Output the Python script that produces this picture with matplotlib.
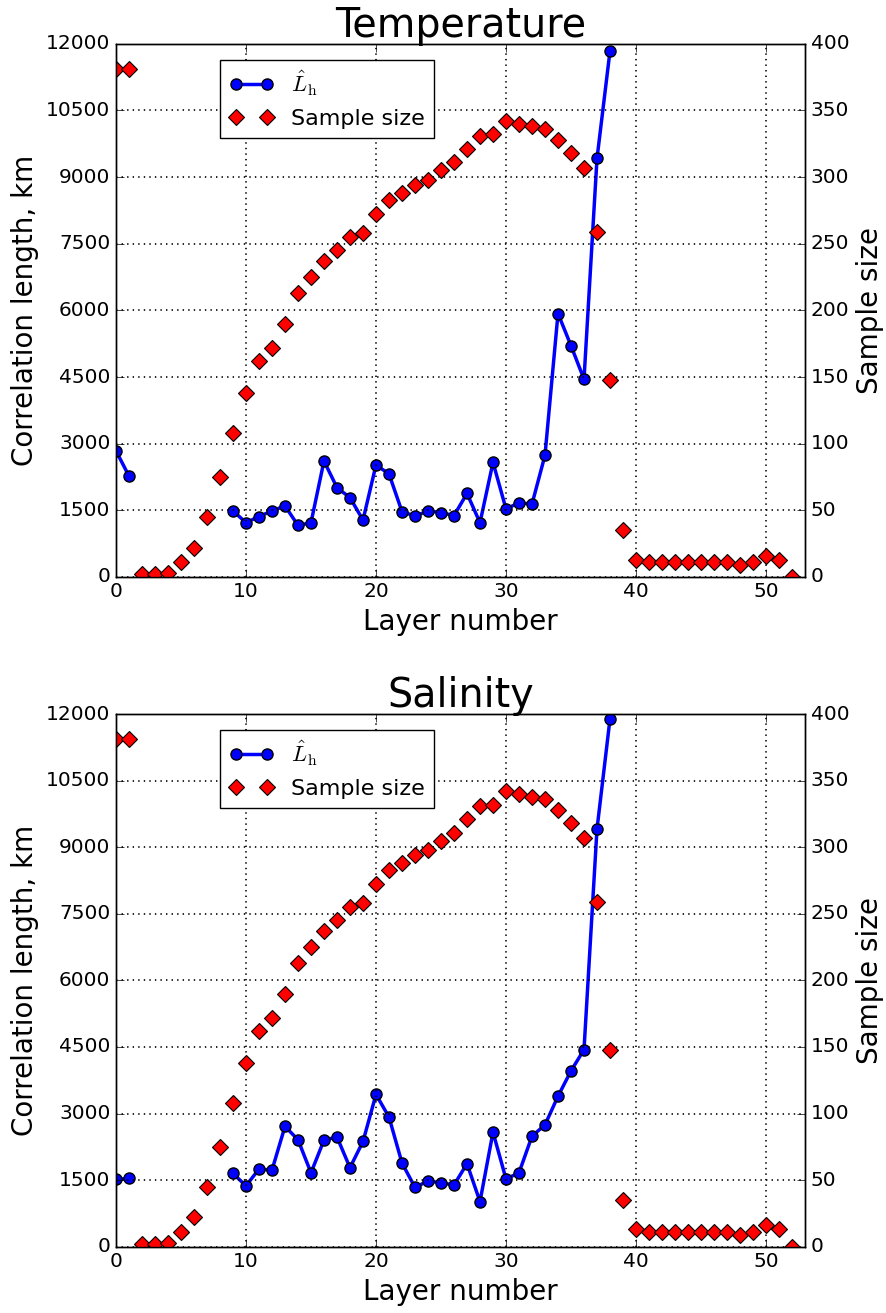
import numpy as np
import matplotlib

matplotlib.use("Agg")
import matplotlib.pyplot as plt  # noqa: E402

plt.style.use("classic")
plt.rcParams["mathtext.fontset"] = "cm"
plt.rcParams["font.family"] = ["DejaVu Sans"]

nan = np.nan
layers = np.arange(53)

# sample size per layer (same for both variables)
sample_size = [381, 381, 2, 2, 3, 11, 22, 45, 75, 108, 138, 162, 172, 190, 213,
               225, 237, 245, 255, 258, 272, 283, 288, 294, 298, 305, 311, 321,
               331, 332, 342, 340, 338, 336, 328, 318, 307, 259, 148, 35, 13,
               11, 11, 11, 11, 11, 11, 11, 9, 11, 16, 13, 0]

# correlation length estimates, km (NaN where not estimated)
L_temp = [2840, 2270, nan, nan, nan, nan, nan, nan, nan, 1490, 1220, 1360, 1485,
          1600, 1160, 1220, 2610, 2010, 1785, 1280, 2520, 2320, 1470, 1370, 1485,
          1450, 1380, 1880, 1220, 2580, 1530, 1670, 1640, 2740, 5930, 5205, 4450,
          9420, 11840, nan, nan, nan, nan, nan, nan, nan, nan, nan, nan, nan, nan,
          nan, nan]
L_sal = [1515, 1540, nan, nan, nan, nan, nan, nan, nan, 1650, 1370, 1750, 1725,
         2710, 2410, 1665, 2400, 2470, 1780, 2370, 3430, 2920, 1885, 1335, 1480,
         1440, 1390, 1870, 1015, 2580, 1525, 1665, 2490, 2745, 3390, 3960, 4440,
         9410, 11890, nan, nan, nan, nan, nan, nan, nan, nan, nan, nan, nan, nan,
         nan, nan]

titles = ["Temperature", "Salinity"]
series = [L_temp, L_sal]

fig = plt.figure(figsize=(8.86, 13.13), dpi=100, facecolor="white")
boxes = [[0.1309, 0.5606, 0.7777, 0.406], [0.1309, 0.0505, 0.7777, 0.4057]]

for box, title, L in zip(boxes, titles, series):
    ax = fig.add_axes(box)
    ax.plot(layers, L, "o-", color="b", lw=2.5, ms=8, mec="k", mew=1,
            label=r"$\hat{L}_\mathrm{h}$")
    ax.set_xlim(0, 53)
    ax.set_ylim(0, 12000)
    ax.set_yticks(np.arange(0, 12001, 1500))
    ax.set_xticks(np.arange(0, 51, 10))
    ax.grid(True, color="k", ls=":", lw=1.2)
    ax.tick_params(labelsize=14.5, right=False, length=6)
    ax.set_xlabel("Layer number", fontsize=20)
    ax.set_ylabel("Correlation length, km", fontsize=20)
    ax.set_title(title, fontsize=28.5, pad=5)

    ax2 = ax.twinx()
    ax2.plot(layers, sample_size, "D", color="r", ms=8, mec="k", mew=0.8,
             ls="none", label="Sample size")
    ax2.set_ylim(0, 400)
    ax2.set_yticks(np.arange(0, 401, 50))
    ax2.set_xlim(0, 53)
    ax2.tick_params(labelsize=14.5, length=6)
    ax2.set_ylabel("Sample size", fontsize=20)

    h1, l1 = ax.get_legend_handles_labels()
    h2, l2 = ax2.get_legend_handles_labels()
    ax2.legend(h1 + h2, l1 + l2, loc="upper left", bbox_to_anchor=(0.151, 0.97),
               fontsize=16, numpoints=2, borderaxespad=0, framealpha=1)

fig.savefig("out.png", dpi=100, facecolor="white")
